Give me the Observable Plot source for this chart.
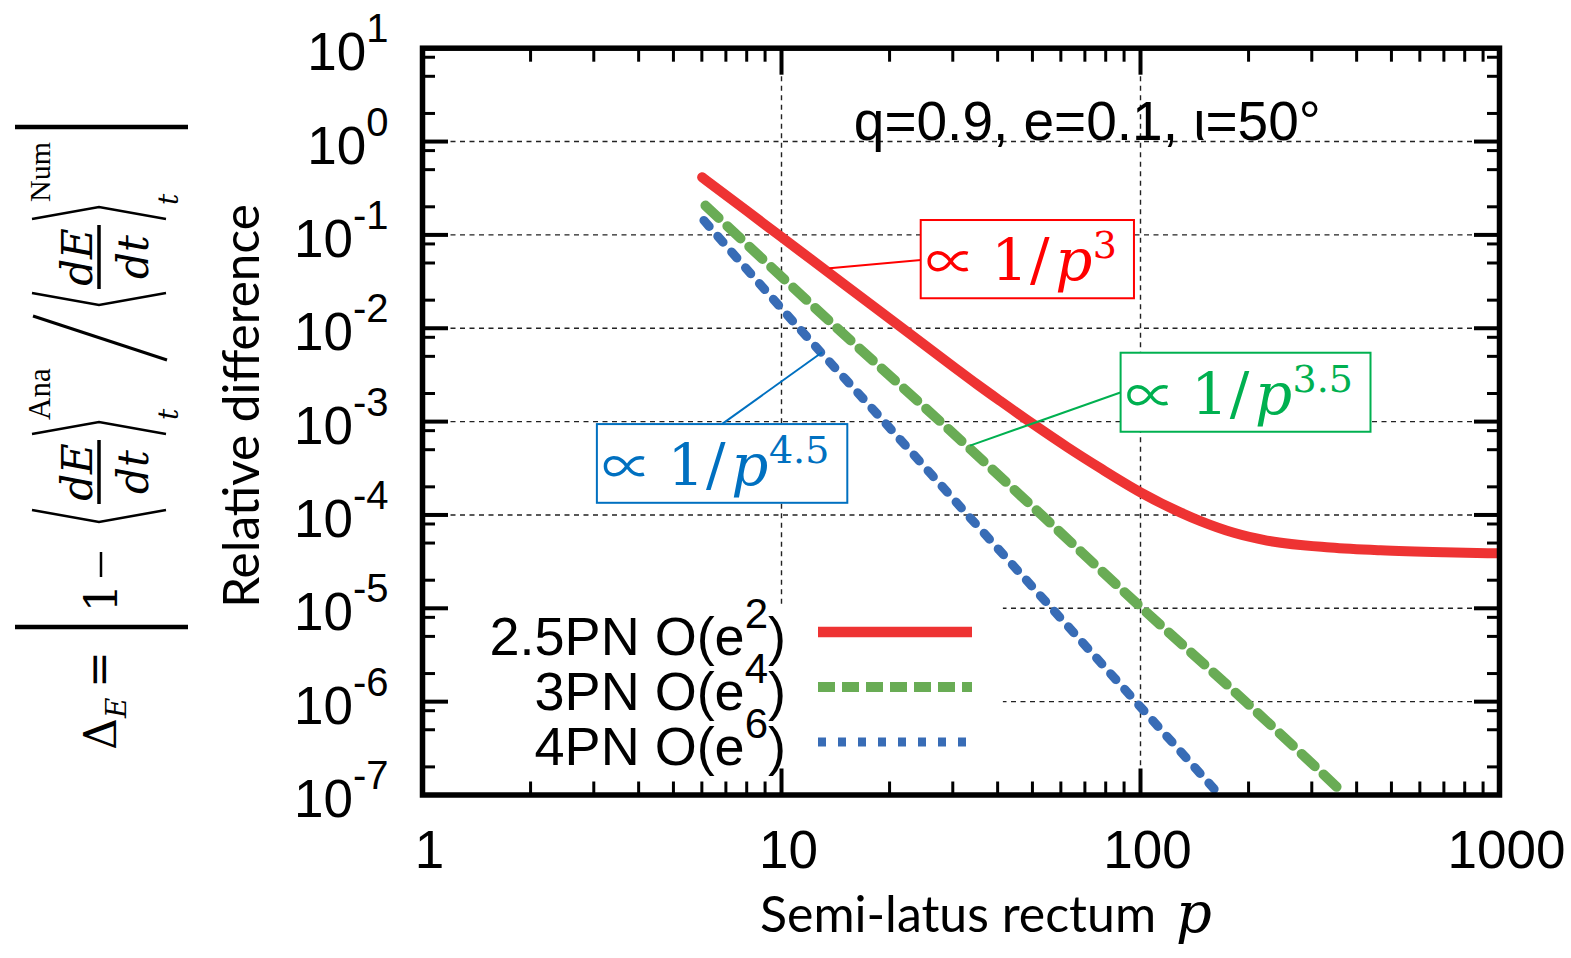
<!DOCTYPE html>
<html><head><meta charset="utf-8">
<script src="https://cdn.jsdelivr.net/npm/d3@7"></script>
<script src="https://cdn.jsdelivr.net/npm/@observablehq/plot@0.6"></script>
<style>html,body{margin:0;padding:0;background:#fff;overflow:hidden} svg{display:block}</style>
</head><body><div id="chart"></div>
<script>
// ---------- data ----------
const redP = [6.01, 8, 10, 15, 20, 30, 35, 40.8, 50.4, 62.5, 77.4, 100, 129, 147, 182, 225, 338, 466, 700, 1000];
const redV = [0.415, 0.181, 0.0948, 0.0292, 0.0127, 3.92e-3, 2.52e-3, 1.65e-3, 9.32e-4, 5.33e-4, 3.16e-4, 1.75e-4, 1.066e-4, 8.59e-5, 6.44e-5, 5.32e-5, 4.48e-5, 4.18e-5, 3.98e-5, 3.88e-5];
const greenP = [6.14, 14.3, 27.7, 53, 101, 196, 372];
const greenV = [0.206, 1e-2, 1e-3, 1e-4, 1e-5, 1e-6, 1e-7];
const blueP = [6.08, 11.2, 19.3, 33.0, 56.6, 97.0, 166];
const blueV = [0.143, 1e-2, 1e-3, 1e-4, 1e-5, 1e-6, 1e-7];
const seriesNames = ["2.5PN O(e", "3PN O(e", "4PN O(e"];
const seriesSup = ["2", "4", "6"];

const xMajor = [1, 10, 100, 1000];
const xMinor = [2,3,4,5,6,7,8,9,20,30,40,50,60,70,80,90,200,300,400,500,600,700,800,900];
const yMajor = [10, 1, 0.1, 0.01, 1e-3, 1e-4, 1e-5, 1e-6, 1e-7];
const yExp = ["1", "0", "-1", "-2", "-3", "-4", "-5", "-6", "-7"];
const yMinor = [2e-7,5e-7,8e-7,2e-6,5e-6,8e-6,2e-5,5e-5,8e-5,2e-4,5e-4,8e-4,2e-3,5e-3,8e-3,0.02,0.05,0.08,0.2,0.5,0.8,2,5,8];
const gridX = [10, 100];
const gridY = [1, 0.1, 0.01, 1e-3, 1e-4, 1e-5, 1e-6];

const titleText = "q=0.9, e=0.1, ι=50°";
const titlePos = [15.9, 1.03];

// annotation boxes (data coordinates) and leaders
const annoExp = ["3", "3.5", "4.5"];
const annoColor = ["#FF0000", "#00B050", "#0070C0"];
const annoX1 = [24.5, 88.3, 3.07];
const annoX2 = [96.2, 438.6, 15.3];
const annoY1 = [0.0207, 7.69e-4, 1.333e-4];
const annoY2 = [0.1426, 5.40e-3, 9.29e-4];
const leadX1 = [13.6, 33.5, 12.98];
const leadY1 = [0.044, 5.53e-4, 5.53e-3];
const leadX2 = [24.47, 88.3, 6.84];
const leadY2 = [0.054, 2.06e-3, 9.46e-4];
const legendBox = [{x1: 1, x2: 41.5, y1: 1e-7, y2: 1.07e-5}];

// ---------- tables ----------
const redRows = redP.map((p, i) => ({p, v: redV[i]}));
const greenRows = greenP.map((p, i) => ({p, v: greenV[i]}));
const blueRows = blueP.map((p, i) => ({p, v: blueV[i]}));
const annos = annoExp.map((e, i) => ({exp: e, color: annoColor[i], x1: annoX1[i], x2: annoX2[i], y1: annoY1[i], y2: annoY2[i],
  lx1: leadX1[i], ly1: leadY1[i], lx2: leadX2[i], ly2: leadY2[i]}));

const RED = "#EE3333", GREEN = "#69AC55", BLUE = "#386CB6";
const gridStyle = {stroke: "#222", strokeWidth: 1.4, strokeDasharray: "5,4.5"};
const tk = {tickFormat: () => "", label: null, stroke: "black"};

const plot = Plot.plot({
  width: 1571, height: 958,
  marginLeft: 422, marginRight: 72, marginTop: 47.7, marginBottom: 163.5,
  x: {type: "log", domain: [1, 1000]},
  y: {type: "log", domain: [1e-7, 10]},
  style: {background: "white", fontFamily: "'Liberation Sans', Arial, sans-serif", fontSize: "53px", color: "black", overflow: "visible"},
  marks: [
    Plot.ruleY(gridY, gridStyle),
    Plot.ruleX(gridX, gridStyle),
    Plot.rect(legendBox, {x1: "x1", x2: "x2", y1: "y1", y2: "y2", fill: "white"}),
    Plot.line(blueRows, {x: "p", y: "v", stroke: BLUE, strokeWidth: 9, strokeDasharray: "8,13", curve: "monotone-x", clip: true}),
    Plot.line(greenRows, {x: "p", y: "v", stroke: GREEN, strokeWidth: 10, strokeDasharray: "18,12", curve: "monotone-x", clip: true}),
    Plot.line(redRows, {x: "p", y: "v", stroke: RED, strokeWidth: 10, curve: "monotone-x", clip: true}),
    Plot.link(annos, {x1: "lx1", y1: "ly1", x2: "lx2", y2: "ly2", stroke: "color", strokeWidth: 2}),
    Plot.rect(annos, {x1: "x1", x2: "x2", y1: "y1", y2: "y2", fill: "white", stroke: "color", strokeWidth: 2}),
    Plot.text([titleText], {x: titlePos[0], y: titlePos[1], text: d => d, textAnchor: "start", lineAnchor: "bottom", fontSize: 55, fill: "black"}),
    Plot.axisX({ticks: xMajor, anchor: "bottom", tickSize: -26, strokeWidth: 4, ...tk}),
    Plot.axisX({ticks: xMinor, anchor: "bottom", tickSize: -13, strokeWidth: 3, ...tk}),
    Plot.axisX({ticks: xMajor, anchor: "top", tickSize: -26, strokeWidth: 4, ...tk}),
    Plot.axisX({ticks: xMinor, anchor: "top", tickSize: -13, strokeWidth: 3, ...tk}),
    Plot.axisY({ticks: yMajor, anchor: "left", tickSize: -26, strokeWidth: 4, ...tk}),
    Plot.axisY({ticks: yMinor, anchor: "left", tickSize: -13, strokeWidth: 3, ...tk}),
    Plot.axisY({ticks: yMajor, anchor: "right", tickSize: -26, strokeWidth: 4, ...tk}),
    Plot.axisY({ticks: yMinor, anchor: "right", tickSize: -13, strokeWidth: 3, ...tk}),
    Plot.frame({stroke: "black", strokeWidth: 5.5}),
    Plot.text(xMajor, {x: d => d, frameAnchor: "bottom", lineAnchor: "top", dy: 35, dx: 7, text: d => String(d), fontSize: 53, fill: "black"}),
    Plot.text(yMajor, {y: d => d, frameAnchor: "left", textAnchor: "end", dx: -34, dy: 5, text: (d, i) => "10^" + yExp[i], fontSize: 53, fill: "black"})
  ]
});
document.getElementById("chart").appendChild(plot);

const svg = d3.select(plot);
const sx = plot.scale("x"), sy = plot.scale("y");

// superscript exponents for y tick labels
svg.selectAll("text").filter(function() { return this.textContent.includes("^"); }).each(function() {
  const [base, ex] = this.textContent.split("^");
  const t = d3.select(this); t.text(base);
  t.append("tspan").attr("dy", -28).attr("font-size", 40).text(ex);
});

// annotation labels: ∝ 1/p^n inside each box
annos.forEach(a => {
  const L = sx.apply(a.x1), B = sy.apply(a.y1) - 18;
  const t = svg.append("text").attr("y", B).attr("fill", a.color)
    .attr("font-family", "'DejaVu Serif', serif").attr("font-size", 58);
  t.append("tspan").attr("x", L + 30).attr("text-anchor", "middle")
    .attr("font-family", "'Noto Sans CJK JP', 'DejaVu Sans', sans-serif").attr("font-size", 50).text("∝");
  t.append("tspan").attr("x", L + 89).attr("text-anchor", "middle").text("1");
  t.append("tspan").attr("x", L + 119).attr("text-anchor", "middle").text("/");
  t.append("tspan").attr("x", L + 153).attr("text-anchor", "middle").attr("font-style", "italic").text("p");
  t.append("tspan").attr("x", L + 172).attr("text-anchor", "start").attr("dy", -22).attr("font-size", 38).text(a.exp);
});

// legend (drawn on the opaque legend area)
const legColors = [RED, GREEN, BLUE];
const legDash = [null, "17,7", "8,12"];
const legW = [10.5, 10, 9];
seriesNames.forEach((n, i) => {
  const base = 655 + i * 55;
  const t = svg.append("text").attr("x", 786).attr("y", base).attr("text-anchor", "end")
    .attr("font-family", "'Liberation Sans', Arial, sans-serif").attr("font-size", 54).attr("fill", "black");
  t.append("tspan").text(n);
  t.append("tspan").attr("dy", -27).attr("font-size", 42).text(seriesSup[i]);
  t.append("tspan").attr("dy", 27).attr("font-size", 54).text(")");
  svg.append("line").attr("x1", 818).attr("x2", i === 2 ? 966 : 972).attr("y1", base - 23).attr("y2", base - 23)
    .attr("stroke", legColors[i]).attr("stroke-width", legW[i]).attr("stroke-dasharray", legDash[i]);
});

// axis titles
svg.append("text").attr("transform", "translate(259,406) rotate(-90)").attr("text-anchor", "middle")
  .attr("font-family", "Lato, 'Open Sans', sans-serif").attr("font-size", 49.5).attr("fill", "black").text("Relative difference");
const xt = svg.append("text").attr("x", 760).attr("y", 932).attr("text-anchor", "start").attr("font-family", "Lato, 'Open Sans', sans-serif")
  .attr("font-size", 50).attr("fill", "black");
xt.append("tspan").text("Semi-latus rectum");
xt.append("tspan").attr("dx", 20).attr("font-family", "'DejaVu Serif', serif").attr("font-style", "italic").attr("font-size", 56).text("p");

// left formula  Δ_E = | 1 − <dE/dt>^Ana_t / <dE/dt>^Num_t |
const f = svg.append("g").attr("transform", "translate(0,758) rotate(-90)").attr("text-anchor", "start")
  .attr("font-family", "'DejaVu Serif', serif").attr("fill", "black");
function ft(str, u, w, size, italic, anchor, fam) {
  const t = f.append("text").attr("x", u).attr("y", w).attr("font-size", size).attr("text-anchor", anchor || "start").text(str);
  if (italic) t.attr("font-style", "italic");
  if (fam) t.attr("font-family", fam);
  return t;
}
function fl(u1, w1, u2, w2, sw) {
  f.append("line").attr("x1", u1).attr("y1", w1).attr("x2", u2).attr("y2", w2).attr("stroke", "black").attr("stroke-width", sw);
}
function fp(pts) {
  f.append("polyline").attr("points", pts.map(p => p.join(",")).join(" ")).attr("fill", "none").attr("stroke", "black").attr("stroke-width", 2.5);
}
ft("Δ", 8, 116, 44, false);
ft("E", 40, 126, 28, true);
ft("=", 70, 114, 44, false);
fl(131, 15, 131, 188, 4.5);
ft("1", 146, 117, 44, false);
fl(181, 101, 206, 101, 2.5);
// first fraction
fp([[248, 32], [236, 99], [248, 166]]);
fl(254, 99, 318, 99, 3.5);
ft("dE", 286, 92, 42, true, "middle");
ft("dt", 286, 148, 42, true, "middle");
fp([[324, 32], [336, 99], [324, 166]]);
ft("Ana", 338, 50, 31, false, null, "'Liberation Serif', serif");
ft("t", 338, 178, 28, true);
// slash
fl(442, 33, 398, 167, 3);
// second fraction
fp([[465, 32], [453, 99], [465, 166]]);
fl(469, 99, 533, 99, 3.5);
ft("dE", 501, 92, 42, true, "middle");
ft("dt", 501, 148, 42, true, "middle");
fp([[539, 32], [551, 99], [539, 166]]);
ft("Num", 556, 50, 30, false, null, "'Liberation Serif', serif");
ft("t", 553, 178, 28, true);
fl(631, 15, 631, 188, 4.5);
</script></body></html>
